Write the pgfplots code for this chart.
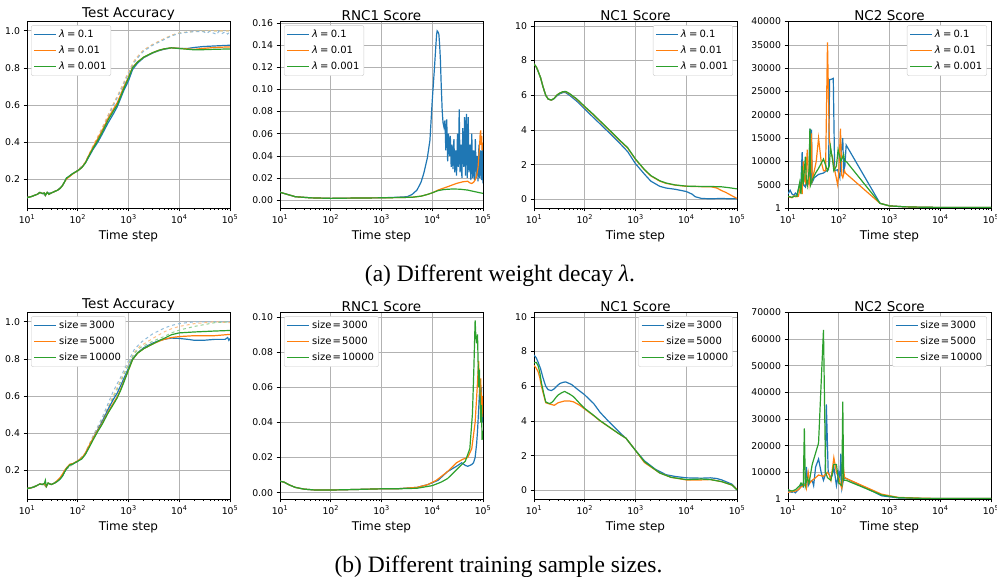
\documentclass[border=0pt]{standalone}
\usepackage{fontspec}
\setmainfont{DejaVu Sans}
\newfontfamily\capfont{Liberation Serif}
\usepackage{pgfplots}
\pgfplotsset{compat=1.18}
\definecolor{cb}{HTML}{1F77B4}
\definecolor{co}{HTML}{FF7F0E}
\definecolor{cg}{HTML}{2CA02C}
\colorlet{cbl}{cb!50!white}
\colorlet{col}{co!50!white}
\colorlet{cgl}{cg!50!white}
\pgfplotsset{
  every axis/.append style={
    scale only axis, width=203pt, height=186.5pt, anchor=south west,
    xmin=10, xmax=100000, scaled y ticks=false,
    xtick={10,100,1000,10000,100000},
    xticklabels={10\textsuperscript{1},10\textsuperscript{2},10\textsuperscript{3},10\textsuperscript{4},10\textsuperscript{5}},
    grid=major, major grid style={color=black!30, line width=0.6pt},
    tick align=outside, tick pos=left,
    major tick length=3.5pt, minor tick length=2pt,
    every tick/.style={black, line width=0.6pt},
    axis line style={line width=0.7pt},
    xlabel={Time step},
    xlabel style={font=\fontsize{12}{14}\selectfont, yshift=0pt},
    tick label style={font=\fontsize{9.3}{11}\selectfont},
    title style={font=\fontsize{13.5}{16}\selectfont, yshift=-8.5pt},
    legend style={font=\fontsize{10}{12}\selectfont, draw=black!20, rounded corners=2pt, inner xsep=2.5pt, inner ysep=2.5pt, row sep=3pt},
    legend cell align=left,
  },
  every axis plot/.append style={line width=1.2pt, no marks},
  every axis plot post/.append style={legend image code/.code={\draw[#1, solid, line width=1.3pt] (0pt,0pt) -- (22pt,0pt);}},
}
\tikzset{mytrn/.style={dashed, line width=1pt}}
\newcommand{\lam}[1]{\textit{λ}\hspace{0.22em}=\hspace{0.22em}#1}
\newcommand{\sz}[1]{\textup{size}\hspace{0.12em}=\hspace{0.12em}#1}
\newcommand{\legthree}[3]{%
  \addlegendimage{draw=cb}\addlegendentry{#1}%
  \addlegendimage{draw=co}\addlegendentry{#2}%
  \addlegendimage{draw=cg}\addlegendentry{#3}}
\begin{document}
\begin{tikzpicture}
\useasboundingbox (0,0) rectangle (997pt,577pt);
% ================= ROW 1 =================
\begin{semilogxaxis}[at={(27pt,369pt)}, title={Test Accuracy}, ymin=0.044, ymax=1.05, ytick={0.2,0.4,0.6,0.8,1.0}, yticklabels={0.2,0.4,0.6,0.8,1.0}, legend style={at={(0.02,0.98)}, anchor=north west}]
\addplot[mytrn, cgl, forget plot] coordinates {(10,0.1)(14,0.112)(18,0.128)(20,0.122)(23,0.112)(25,0.128)(30,0.125)(40,0.14)(50,0.165)(60,0.205)(80,0.23)(100,0.245)(140,0.288)(200,0.375)(300,0.47)(500,0.6)(700,0.68)(1000,0.775)(1300,0.835)(1700,0.875)(2000,0.895)(3000,0.925)(5000,0.955)(7000,0.975)(10000,0.988)(20000,0.997)(50000,1.0)(100000,1.0)};
\addplot[mytrn, col, forget plot] coordinates {(10,0.1)(14,0.112)(18,0.128)(20,0.122)(23,0.112)(25,0.128)(30,0.125)(40,0.14)(50,0.165)(60,0.205)(80,0.23)(100,0.248)(140,0.29)(200,0.38)(300,0.475)(500,0.605)(700,0.685)(1000,0.78)(1300,0.84)(1700,0.878)(2000,0.897)(3000,0.927)(5000,0.957)(7000,0.976)(10000,0.988)(20000,0.997)(50000,1.0)(100000,1.0)};
\addplot[mytrn, cbl, forget plot] coordinates {(10,0.1)(14,0.112)(18,0.128)(20,0.122)(23,0.112)(25,0.128)(30,0.125)(40,0.14)(50,0.165)(60,0.205)(80,0.23)(100,0.245)(140,0.285)(200,0.37)(300,0.465)(500,0.595)(700,0.675)(1000,0.77)(1300,0.83)(1700,0.87)(2000,0.89)(3000,0.922)(5000,0.952)(7000,0.972)(10000,0.986)(20000,0.996)(30000,0.995)(35000,0.985)(40000,0.998)(45000,0.99)(55000,0.98)(60000,0.997)(70000,0.985)(80000,0.995)(90000,0.982)(100000,0.995)};
\addplot[cb, forget plot] coordinates {(10,0.1)(12,0.105)(14,0.112)(16,0.118)(18,0.128)(20,0.122)(22,0.125)(23,0.112)(25,0.128)(27,0.118)(30,0.125)(35,0.133)(40,0.14)(45,0.15)(50,0.165)(55,0.185)(60,0.205)(70,0.218)(80,0.23)(100,0.245)(120,0.262)(140,0.285)(170,0.325)(200,0.36)(250,0.4)(300,0.44)(400,0.505)(500,0.55)(600,0.59)(700,0.635)(800,0.675)(1000,0.73)(1200,0.79)(1500,0.825)(2000,0.855)(3000,0.88)(4000,0.893)(5000,0.9)(7000,0.908)(10000,0.905)(15000,0.905)(20000,0.91)(30000,0.915)(50000,0.918)(100000,0.922)};
\addplot[co, forget plot] coordinates {(10,0.1)(12,0.105)(14,0.112)(16,0.118)(18,0.128)(20,0.122)(22,0.125)(23,0.112)(25,0.128)(27,0.118)(30,0.125)(35,0.133)(40,0.14)(45,0.15)(50,0.165)(55,0.185)(60,0.2)(70,0.215)(80,0.228)(100,0.245)(120,0.262)(140,0.287)(170,0.335)(200,0.372)(250,0.42)(300,0.46)(400,0.53)(500,0.575)(600,0.612)(700,0.655)(800,0.695)(1000,0.75)(1200,0.802)(1500,0.832)(2000,0.858)(3000,0.882)(4000,0.895)(5000,0.902)(7000,0.908)(10000,0.905)(15000,0.902)(20000,0.9)(30000,0.905)(50000,0.91)(100000,0.913)};
\addplot[cg, forget plot] coordinates {(10,0.1)(12,0.105)(14,0.112)(16,0.118)(18,0.128)(20,0.122)(22,0.125)(23,0.112)(25,0.128)(27,0.118)(30,0.125)(35,0.133)(40,0.14)(45,0.15)(50,0.165)(55,0.185)(60,0.205)(70,0.218)(80,0.23)(100,0.245)(120,0.262)(140,0.285)(170,0.33)(200,0.365)(250,0.41)(300,0.45)(400,0.52)(500,0.565)(600,0.6)(700,0.645)(800,0.685)(1000,0.745)(1200,0.8)(1500,0.83)(2000,0.858)(3000,0.882)(4000,0.895)(5000,0.902)(7000,0.908)(10000,0.904)(15000,0.9)(20000,0.897)(30000,0.898)(50000,0.9)(100000,0.902)};
\legthree{\lam{0.1}}{\lam{0.01}}{\lam{0.001}}
\end{semilogxaxis}
\begin{semilogxaxis}[at={(280pt,369pt)}, title={RNC1 Score}, ymin=-0.0072, ymax=0.1615,
  ytick={0,0.02,0.04,0.06,0.08,0.10,0.12,0.14,0.16}, yticklabels={0.00,0.02,0.04,0.06,0.08,0.10,0.12,0.14,0.16}, legend style={at={(0.02,0.98)}, anchor=north west}]
\addplot[cb, forget plot] coordinates {(10,0.007)(13,0.0055)(20,0.003)(40,0.002)(100,0.0015)(300,0.0018)(1000,0.002)(2000,0.0025)(3200,0.003)(4000,0.005)(5000,0.009)(6000,0.016)(6800,0.024)(8000,0.038)(9000,0.054)(10000,0.09)(11000,0.118)(11600,0.135)(12200,0.15)(12500,0.153)(13000,0.152)(13500,0.15)(14000,0.14)(14500,0.126)(15000,0.105)(15700,0.081)(16300,0.07)(17000,0.066)(17800,0.072)(18500,0.045)(19300,0.073)(20100,0.035)(20900,0.06)(21800,0.04)(22700,0.058)(23600,0.03)(24600,0.05)(25600,0.028)(26700,0.055)(27800,0.025)(28900,0.045)(30100,0.022)(31400,0.06)(32700,0.03)(34000,0.082)(35400,0.025)(36900,0.05)(38400,0.02)(40000,0.065)(41700,0.03)(43400,0.075)(45200,0.022)(47100,0.078)(49000,0.02)(51100,0.075)(53200,0.025)(55400,0.05)(57700,0.018)(60100,0.06)(62600,0.02)(65200,0.045)(67900,0.018)(70700,0.055)(73600,0.02)(76700,0.04)(79900,0.017)(83200,0.05)(86600,0.02)(90200,0.045)(93900,0.018)(97800,0.05)(100000,0.015)};
\addplot[co, forget plot] coordinates {(10,0.007)(13,0.0055)(20,0.003)(40,0.002)(100,0.0015)(300,0.0018)(1000,0.002)(2000,0.0022)(4000,0.0025)(6000,0.0035)(8000,0.005)(10000,0.0065)(13000,0.009)(20000,0.012)(30000,0.015)(40000,0.0165)(50000,0.017)(55000,0.0155)(60000,0.015)(65000,0.016)(70000,0.018)(75000,0.022)(80000,0.03)(83000,0.04)(86000,0.05)(88000,0.06)(90000,0.063)(92000,0.05)(94000,0.058)(96000,0.045)(98000,0.052)(100000,0.045)};
\addplot[cg, forget plot] coordinates {(10,0.007)(13,0.0055)(20,0.003)(40,0.002)(100,0.0015)(300,0.0018)(1000,0.002)(2000,0.0022)(4000,0.0025)(6000,0.0035)(8000,0.005)(10000,0.0065)(13000,0.0085)(17000,0.0095)(25000,0.01)(35000,0.0098)(50000,0.009)(70000,0.0075)(100000,0.006)};
\legthree{\lam{0.1}}{\lam{0.01}}{\lam{0.001}}
\end{semilogxaxis}
\begin{semilogxaxis}[at={(534pt,369pt)}, title={NC1 Score}, ymin=-0.5, ymax=10.25, ytick={0,2,4,6,8,10}, yticklabels={0,2,4,6,8,10}, legend style={at={(0.98,0.98)}, anchor=north east}]
\addplot[cb, forget plot] coordinates {(10,7.8)(11,7.65)(12,7.4)(13.5,7.0)(15,6.5)(17,6.0)(19,5.78)(22,5.72)(25,5.8)(28,5.95)(32,6.08)(37,6.15)(42,6.15)(50,6.0)(70,5.65)(100,5.2)(150,4.7)(200,4.35)(300,3.85)(500,3.2)(700,2.75)(1000,2.05)(1500,1.45)(2000,1.05)(3000,0.75)(4000,0.65)(6000,0.58)(10000,0.45)(13000,0.3)(15000,0.15)(20000,0.05)(30000,0.03)(50000,0.05)(70000,0.03)(100000,0.03)};
\addplot[co, forget plot] coordinates {(10,7.8)(11,7.65)(12,7.4)(13.5,7.0)(15,6.5)(17,6.0)(19,5.78)(22,5.72)(25,5.82)(28,6.0)(32,6.12)(37,6.2)(42,6.2)(50,6.08)(70,5.75)(100,5.32)(150,4.85)(200,4.5)(300,4.0)(500,3.35)(700,2.95)(1000,2.3)(1500,1.7)(2000,1.35)(3000,1.05)(4000,0.92)(6000,0.82)(10000,0.75)(20000,0.73)(30000,0.73)(40000,0.65)(50000,0.5)(60000,0.4)(80000,0.2)(100000,0.05)};
\addplot[cg, forget plot] coordinates {(10,7.8)(11,7.65)(12,7.4)(13.5,7.0)(15,6.5)(17,6.0)(19,5.78)(22,5.72)(25,5.82)(28,6.0)(32,6.12)(37,6.2)(42,6.22)(50,6.1)(70,5.78)(100,5.35)(150,4.88)(200,4.52)(300,4.02)(500,3.38)(700,2.98)(1000,2.32)(1500,1.72)(2000,1.37)(3000,1.07)(4000,0.94)(6000,0.83)(10000,0.76)(20000,0.74)(30000,0.74)(50000,0.72)(70000,0.67)(100000,0.6)};
\legthree{\lam{0.1}}{\lam{0.01}}{\lam{0.001}}
\end{semilogxaxis}
\begin{semilogxaxis}[at={(788pt,369pt)}, title={NC2 Score}, ymin=0, ymax=40000,
  ytick={0,5000,10000,15000,20000,25000,30000,35000,40000}, yticklabels={1,5000,10000,15000,20000,25000,30000,35000,40000}, legend style={at={(0.98,0.98)}, anchor=north east}]
\addplot[cb, forget plot] coordinates {(10,3000)(11,3800)(12,3000)(13,2700)(14,3200)(15,2800)(17,5000)(18,5500)(19,12000)(20,5000)(22,4500)(23,5800)(24,5000)(26,5500)(27,17000)(28,6000)(29,16800)(30,5500)(33,6500)(40,7200)(50,7500)(58,8000)(63,8200)(66,27500)(71,27600)(78,27800)(83,8000)(95,8200)(105,6500)(112,12000)(120,15000)(125,8000)(132,9000)(140,13500)(650,1000)(1000,450)(2000,250)(5000,150)(20000,100)(100000,100)};
\addplot[co, forget plot] coordinates {(10,2500)(11,2300)(12,2200)(13,2600)(14,2400)(16,2500)(18,5000)(19,3000)(20,10000)(21,6000)(22,5500)(24,12500)(25,7000)(26,5000)(28,8000)(29,16000)(30,6000)(33,8000)(36,10000)(40,15000)(45,10000)(50,8000)(55,8000)(60,35500)(65,15000)(70,12000)(75,11000)(80,9000)(95,5000)(100,7500)(108,17000)(115,7000)(120,6500)(130,8000)(135,7500)(650,1000)(1000,450)(2000,250)(5000,150)(20000,100)(100000,100)};
\addplot[cg, forget plot] coordinates {(10,2500)(12,2300)(14,2600)(15,2500)(17,5500)(18,3000)(19,9000)(20,5000)(22,11000)(23,6000)(24,4800)(26,8000)(27,17000)(28,5000)(30,6000)(35,7500)(40,8500)(50,10500)(60,8000)(65,9000)(69,13000)(75,10500)(80,8000)(90,9000)(97,12500)(110,10000)(125,11500)(130,10000)(140,10000)(650,1000)(1000,450)(2000,250)(5000,150)(20000,100)(100000,100)};
\legthree{\lam{0.1}}{\lam{0.01}}{\lam{0.001}}
\end{semilogxaxis}
% ================= ROW 2 =================
\begin{semilogxaxis}[at={(27pt,78pt)}, title={Test Accuracy}, ymin=0.044, ymax=1.05, ytick={0.2,0.4,0.6,0.8,1.0}, yticklabels={0.2,0.4,0.6,0.8,1.0}, legend style={at={(0.02,0.98)}, anchor=north west}]
\addplot[mytrn, cbl, forget plot] coordinates {(10,0.1)(14,0.112)(18,0.125)(20,0.122)(23,0.115)(25,0.13)(30,0.125)(40,0.14)(50,0.17)(60,0.205)(80,0.232)(100,0.248)(140,0.29)(200,0.385)(300,0.48)(500,0.625)(700,0.7)(1000,0.79)(1300,0.85)(1700,0.885)(2000,0.9)(3000,0.935)(5000,0.965)(7000,0.98)(10000,0.99)(20000,1.0)(50000,1.0)(100000,1.0)};
\addplot[mytrn, col, forget plot] coordinates {(10,0.1)(14,0.112)(18,0.125)(20,0.122)(23,0.115)(25,0.13)(30,0.125)(40,0.14)(50,0.17)(60,0.205)(80,0.232)(100,0.248)(140,0.29)(200,0.38)(300,0.47)(500,0.6)(700,0.685)(1000,0.775)(1300,0.835)(1700,0.87)(2000,0.88)(3000,0.91)(5000,0.945)(7000,0.962)(10000,0.975)(20000,0.99)(50000,1.0)(100000,0.995)};
\addplot[mytrn, cgl, forget plot] coordinates {(10,0.1)(14,0.112)(18,0.125)(20,0.122)(23,0.115)(25,0.13)(30,0.125)(40,0.14)(50,0.17)(60,0.205)(80,0.232)(100,0.248)(140,0.29)(200,0.375)(300,0.465)(500,0.59)(700,0.675)(1000,0.77)(1300,0.83)(1700,0.86)(2000,0.87)(3000,0.895)(5000,0.92)(7000,0.94)(10000,0.955)(20000,0.975)(50000,0.995)(100000,1.0)};
\addplot[cb, forget plot] coordinates {(10,0.1)(12,0.104)(14,0.11)(16,0.118)(18,0.125)(20,0.122)(22,0.128)(24,0.11)(26,0.13)(30,0.122)(35,0.13)(40,0.14)(45,0.152)(50,0.168)(55,0.19)(60,0.208)(70,0.228)(80,0.233)(100,0.248)(120,0.262)(140,0.285)(170,0.33)(200,0.37)(250,0.42)(300,0.46)(400,0.53)(500,0.58)(600,0.615)(700,0.655)(800,0.69)(1000,0.75)(1200,0.8)(1500,0.832)(2000,0.86)(3000,0.885)(4000,0.898)(5000,0.905)(7000,0.912)(10000,0.91)(15000,0.905)(20000,0.9)(30000,0.9)(50000,0.905)(80000,0.905)(90000,0.915)(95000,0.9)(100000,0.91)};
\addplot[co, forget plot] coordinates {(10,0.1)(12,0.104)(14,0.11)(16,0.118)(18,0.125)(20,0.122)(22,0.128)(24,0.11)(26,0.13)(30,0.122)(35,0.13)(40,0.145)(45,0.16)(50,0.178)(55,0.198)(60,0.212)(70,0.232)(80,0.235)(100,0.25)(120,0.265)(140,0.29)(170,0.335)(200,0.37)(250,0.415)(300,0.45)(400,0.515)(500,0.56)(600,0.595)(700,0.635)(800,0.675)(1000,0.74)(1200,0.795)(1500,0.83)(2000,0.855)(3000,0.88)(4000,0.895)(5000,0.905)(7000,0.915)(10000,0.92)(20000,0.925)(50000,0.925)(100000,0.932)};
\addplot[cg, forget plot] coordinates {(10,0.1)(12,0.104)(14,0.11)(16,0.118)(18,0.125)(20,0.122)(22,0.128)(23,0.145)(24,0.112)(26,0.13)(30,0.122)(35,0.13)(40,0.14)(45,0.152)(50,0.168)(55,0.19)(60,0.208)(70,0.228)(80,0.233)(100,0.248)(120,0.26)(140,0.283)(170,0.325)(200,0.362)(250,0.41)(300,0.445)(400,0.51)(500,0.553)(600,0.59)(700,0.63)(800,0.67)(1000,0.74)(1200,0.795)(1500,0.83)(2000,0.855)(3000,0.88)(4000,0.898)(5000,0.91)(7000,0.93)(10000,0.94)(20000,0.945)(50000,0.95)(100000,0.953)};
\legthree{\sz{3000}}{\sz{5000}}{\sz{10000}}
\end{semilogxaxis}
\begin{semilogxaxis}[at={(280pt,78pt)}, title={RNC1 Score}, ymin=-0.0036, ymax=0.1025,
  ytick={0,0.02,0.04,0.06,0.08,0.10}, yticklabels={0.00,0.02,0.04,0.06,0.08,0.10}, legend style={at={(0.02,0.98)}, anchor=north west}]
\addplot[cb, forget plot] coordinates {(10,0.0065)(12,0.006)(15,0.0045)(20,0.003)(30,0.002)(50,0.0015)(100,0.0015)(300,0.0018)(1000,0.0022)(2000,0.0022)(5000,0.003)(8000,0.0045)(13000,0.007)(20000,0.012)(30000,0.015)(38000,0.017)(45000,0.0155)(50000,0.015)(55000,0.0155)(60000,0.016)(65000,0.017)(70000,0.02)(75000,0.028)(78000,0.035)(83000,0.05)(87000,0.063)(90000,0.05)(93000,0.06)(97000,0.04)(100000,0.05)};
\addplot[co, forget plot] coordinates {(10,0.0065)(12,0.006)(15,0.0045)(20,0.003)(30,0.002)(50,0.0015)(100,0.0015)(300,0.0018)(1000,0.0022)(2000,0.0022)(5000,0.003)(8000,0.0045)(12000,0.007)(20000,0.012)(30000,0.017)(40000,0.019)(50000,0.02)(60000,0.025)(70000,0.04)(77000,0.06)(82000,0.075)(87000,0.055)(90000,0.065)(95000,0.045)(98000,0.055)(100000,0.043)};
\addplot[cg, forget plot] coordinates {(10,0.0065)(12,0.006)(15,0.0045)(20,0.003)(30,0.002)(50,0.0015)(100,0.0015)(300,0.0018)(1000,0.0022)(2000,0.0022)(5000,0.0025)(10000,0.004)(15000,0.006)(20000,0.008)(30000,0.013)(45000,0.018)(55000,0.025)(62000,0.045)(66000,0.07)(70000,0.098)(72000,0.09)(75000,0.085)(78000,0.09)(82000,0.06)(85000,0.07)(90000,0.04)(93000,0.05)(96000,0.03)(100000,0.035)};
\legthree{\sz{3000}}{\sz{5000}}{\sz{10000}}
\end{semilogxaxis}
\begin{semilogxaxis}[at={(534pt,78pt)}, title={NC1 Score}, ymin=-0.5, ymax=10.25, ytick={0,2,4,6,8,10}, yticklabels={0,2,4,6,8,10}, legend style={at={(0.98,0.98)}, anchor=north east}]
\addplot[cb, forget plot] coordinates {(10,7.8)(11,7.65)(12,7.4)(13.5,7.0)(15,6.5)(17,6.0)(19,5.8)(22,5.75)(25,5.85)(28,6.0)(32,6.15)(37,6.22)(42,6.25)(55,6.1)(70,5.85)(100,5.5)(150,5.0)(200,4.5)(300,3.95)(500,3.3)(650,3.0)(1000,2.3)(1500,1.7)(2500,1.2)(4000,0.9)(6000,0.8)(10000,0.72)(20000,0.7)(30000,0.72)(40000,0.68)(50000,0.6)(80000,0.35)(100000,0.05)};
\addplot[co, forget plot] coordinates {(10,7.2)(11,7.05)(12,6.85)(13,6.5)(14,6.0)(15.5,5.5)(17,5.05)(20,4.98)(22,4.95)(25,4.9)(30,5.05)(40,5.15)(50,5.15)(60,5.1)(80,4.9)(100,4.68)(150,4.3)(200,4.0)(300,3.65)(450,3.3)(650,3.0)(1000,2.3)(1500,1.6)(3000,1.0)(5000,0.75)(10000,0.6)(20000,0.6)(30000,0.62)(50000,0.5)(80000,0.3)(100000,0.05)};
\addplot[cg, forget plot] coordinates {(10,7.35)(11,7.38)(12,7.2)(13,6.8)(14,6.2)(15.5,5.6)(17,5.1)(20,5.0)(22,5.05)(24,5.15)(27,5.35)(30,5.5)(35,5.62)(40,5.7)(50,5.55)(60,5.4)(80,5.0)(100,4.72)(150,4.32)(200,4.02)(300,3.66)(450,3.3)(650,3.0)(1000,2.3)(1500,1.65)(3000,1.0)(5000,0.75)(10000,0.62)(20000,0.65)(30000,0.62)(50000,0.5)(80000,0.3)(100000,0.02)};
\legthree{\sz{3000}}{\sz{5000}}{\sz{10000}}
\end{semilogxaxis}
\begin{semilogxaxis}[at={(788pt,78pt)}, title={NC2 Score}, ymin=0, ymax=70000,
  ytick={0,10000,20000,30000,40000,50000,60000,70000}, yticklabels={1,10000,20000,30000,40000,50000,60000,70000}, legend style={at={(0.98,0.98)}, anchor=north east}]
\addplot[cb, forget plot] coordinates {(10,3000)(11,2700)(12,2500)(13,2800)(14,2300)(15,3000)(16,3500)(17,4000)(18,5500)(20,4500)(22,6000)(23,12000)(24,8000)(25,5000)(27,6500)(30,7000)(32,5000)(35,12000)(40,15000)(45,10000)(50,7000)(54,9000)(57,35500)(62,10000)(70,8000)(75,9000)(80,12000)(90,5000)(100,10000)(105,8000)(110,17000)(115,4000)(125,7500)(130,8000)(700,1200)(1500,400)(5000,200)(100000,150)};
\addplot[co, forget plot] coordinates {(10,2500)(12,2800)(14,3000)(16,3500)(18,4500)(20,5000)(22,5500)(23,4000)(25,10000)(27,6000)(30,7000)(35,8000)(40,9000)(50,8500)(60,10000)(65,9000)(70,7000)(80,15500)(90,10000)(100,8000)(110,5000)(115,4000)(125,11000)(130,8000)(700,1800)(1500,600)(5000,250)(100000,150)};
\addplot[cg, forget plot] coordinates {(10,3500)(11,3200)(12,3000)(14,3500)(15,4000)(17,5000)(18,6000)(20,5000)(21,26500)(22,5000)(24,8000)(26,6000)(30,13000)(40,21000)(50,63500)(55,10000)(60,8000)(70,7000)(80,13000)(90,13000)(100,6000)(115,5000)(120,36500)(125,7000)(140,7000)(700,1500)(1500,500)(5000,200)(100000,150)};
\legthree{\sz{3000}}{\sz{5000}}{\sz{10000}}
\end{semilogxaxis}
\node[font=\capfont\fontsize{23.5}{26}\selectfont, anchor=base] at (500pt,295pt) {(a) Different weight decay \textit{λ}.};
\node[font=\capfont\fontsize{23.5}{26}\selectfont, anchor=base] at (498.5pt,4pt) {(b) Different training sample sizes.};
\end{tikzpicture}
\end{document}
